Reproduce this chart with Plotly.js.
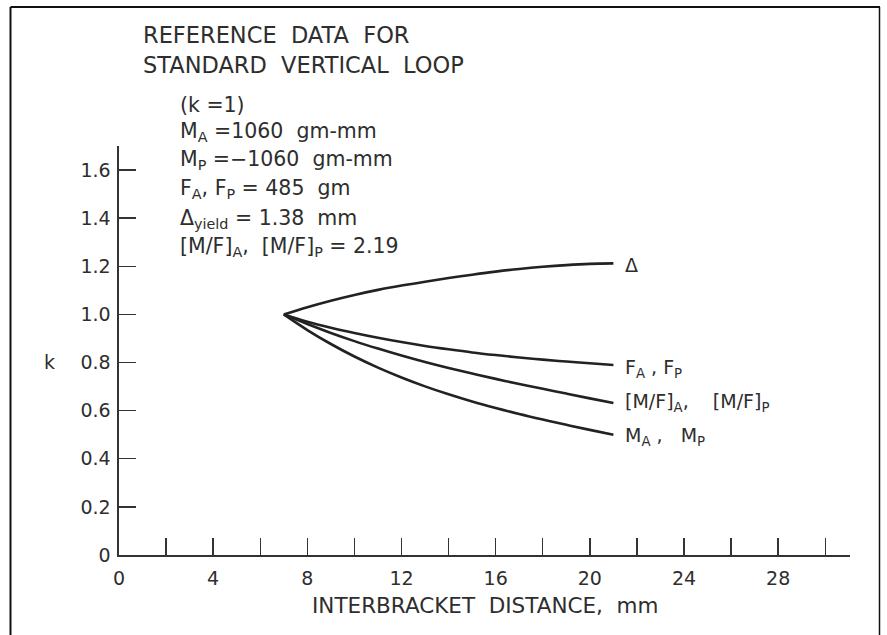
<!DOCTYPE html>
<html>
<head>
<meta charset="utf-8">
<script src="https://cdn.plot.ly/plotly-3.0.1.min.js"></script>
<style>
  html, body { margin: 0; padding: 0; background: #ffffff; }
  #chart { width: 887px; height: 635px; }
</style>
</head>
<body>
<div id="chart"></div>
<script>
// Interbracket distance (mm) at which each ratio k was computed
const distance = [7, 8, 9, 10, 11, 12, 13, 14, 15, 16, 17, 18, 19, 20, 21];

// k = value / value at the standard loop
const deflectionK = [1.00, 1.030, 1.057, 1.081, 1.102, 1.120, 1.136, 1.151, 1.165, 1.178, 1.189, 1.198, 1.205, 1.210, 1.212];
const forceK      = [1.00, 0.970, 0.945, 0.923, 0.903, 0.885, 0.869, 0.855, 0.842, 0.831, 0.821, 0.812, 0.804, 0.797, 0.790];
const ratioK      = [1.00, 0.960, 0.923, 0.889, 0.858, 0.829, 0.802, 0.777, 0.754, 0.732, 0.711, 0.691, 0.671, 0.651, 0.632];
const momentK     = [1.00, 0.935, 0.877, 0.825, 0.779, 0.738, 0.701, 0.668, 0.638, 0.611, 0.586, 0.563, 0.541, 0.520, 0.500];

const seriesNames = [
  "\u0394",
  "F<sub>A</sub> , F<sub>P</sub>",
  "[M/F]<sub>A</sub>,\u00a0\u00a0\u00a0 [M/F]<sub>P</sub>",
  "M<sub>A</sub> ,\u00a0\u00a0 M<sub>P</sub>"
];
const seriesValues = [deflectionK, forceK, ratioK, momentK];

// axis ticks
const xTickVals = [0, 2, 4, 6, 8, 10, 12, 14, 16, 18, 20, 22, 24, 26, 28, 30];
const xTickText = ["0", "", "4", "", "8", "", "12", "", "16", "", "20", "", "24", "", "28", ""];
const yTickVals = [0, 0.2, 0.4, 0.6, 0.8, 1.0, 1.2, 1.4, 1.6];
const yTickText = ["0", "0.2", "0.4", "0.6", "0.8", "1.0", "1.2", "1.4", "1.6"];

// reference values of the standard vertical loop
const titleLines = ["REFERENCE\u00a0 DATA\u00a0 FOR", "STANDARD\u00a0 VERTICAL\u00a0 LOOP"];
const paramLines = [
  "(k =1)",
  "M<sub>A</sub> =1060\u00a0 gm-mm",
  "M<sub>P</sub> =\u22121060\u00a0 gm-mm",
  "F<sub>A</sub>, F<sub>P</sub> = 485\u00a0 gm",
  "\u0394<sub>yield</sub> = 1.38\u00a0 mm",
  "[M/F]<sub>A</sub>,\u00a0 [M/F]<sub>P</sub> = 2.19"
];

const INK = "#222222";
const TEXT = "#2e2e2e";
const FONT = "DejaVu Sans, Liberation Sans, sans-serif";

// plot-area geometry in page pixels
const W = 887, H = 635;
const M = { l: 119, r: 37, t: 146, b: 80 };
const plotW = W - M.l - M.r, plotH = H - M.t - M.b;
const toPaperX = (p) => (p - M.l) / plotW;
const toPaperY = (p) => (H - M.b - p) / plotH;

const traces = seriesValues.map((vals) => ({
  type: "scatter",
  mode: "lines",
  x: distance,
  y: vals,
  line: { color: INK, width: 2.6, shape: "spline", smoothing: 1 },
  hoverinfo: "skip",
  showlegend: false
}));

const annotations = [];

// series labels at the right end of each curve
const labelShift = [-2, -4, 0, -2];
seriesValues.forEach((vals, i) => {
  annotations.push({
    xref: "x", yref: "y",
    x: distance[distance.length - 1], y: vals[vals.length - 1],
    text: seriesNames[i],
    showarrow: false,
    xanchor: "left", yanchor: "middle",
    xshift: 10, yshift: labelShift[i],
    font: { family: FONT, size: 19, color: TEXT }
  });
});

// heading
const titleY = [35, 65];
titleLines.forEach((t, i) => {
  annotations.push({
    xref: "paper", yref: "paper",
    x: toPaperX(141), y: toPaperY(titleY[i]),
    text: t, showarrow: false,
    xanchor: "left", yanchor: "middle",
    font: { family: FONT, size: 22.5, color: TEXT }
  });
});

// parameter block
const paramY = [105, 132, 160, 189, 219, 247];
paramLines.forEach((t, i) => {
  annotations.push({
    xref: "paper", yref: "paper",
    x: toPaperX(178), y: toPaperY(paramY[i]),
    text: t, showarrow: false,
    xanchor: "left", yanchor: "middle",
    font: { family: FONT, size: 20.5, color: TEXT }
  });
});

// axis titles
annotations.push({
  xref: "paper", yref: "paper",
  x: toPaperX(486), y: toPaperY(605),
  text: "INTERBRACKET\u00a0 DISTANCE,\u00a0 mm", showarrow: false,
  xanchor: "center", yanchor: "middle",
  font: { family: FONT, size: 21.5, color: TEXT }
});
annotations.push({
  xref: "paper", yref: "paper",
  x: toPaperX(49), y: toPaperY(362),
  text: "k", showarrow: false,
  xanchor: "center", yanchor: "middle",
  font: { family: FONT, size: 19, color: TEXT }
});

// page frame
const shapes = [
  { type: "line", xref: "paper", yref: "paper", x0: toPaperX(10.5), x1: toPaperX(880), y0: toPaperY(7), y1: toPaperY(7), line: { color: "#111", width: 2 } },
  { type: "line", xref: "paper", yref: "paper", x0: toPaperX(10.5), x1: toPaperX(10.5), y0: toPaperY(7), y1: toPaperY(640), line: { color: "#111", width: 2 } },
  { type: "line", xref: "paper", yref: "paper", x0: toPaperX(879.5), x1: toPaperX(879.5), y0: toPaperY(7), y1: toPaperY(640), line: { color: "#111", width: 1.5 } }
];

const axisCommon = {
  showline: true, linecolor: "#333", linewidth: 1.6,
  ticks: "inside", ticklen: 17, tickwidth: 1.4, tickcolor: "#333",
  showgrid: false, zeroline: false, fixedrange: true,
  tickfont: { family: FONT, size: 19, color: TEXT }
};

const layout = {
  width: W, height: H,
  margin: M,
  paper_bgcolor: "#ffffff",
  plot_bgcolor: "rgba(0,0,0,0)",
  showlegend: false,
  xaxis: Object.assign({}, axisCommon, {
    range: [0, 31.05],
    tickmode: "array", tickvals: xTickVals, ticktext: xTickText,
    ticklabelstandoff: 6
  }),
  yaxis: Object.assign({}, axisCommon, {
    range: [0, 1.70],
    tickmode: "array", tickvals: yTickVals, ticktext: yTickText,
    ticklabelstandoff: 3
  }),
  annotations: annotations,
  shapes: shapes
};

Plotly.newPlot("chart", traces, layout, { displayModeBar: false, staticPlot: true });
</script>
</body>
</html>
